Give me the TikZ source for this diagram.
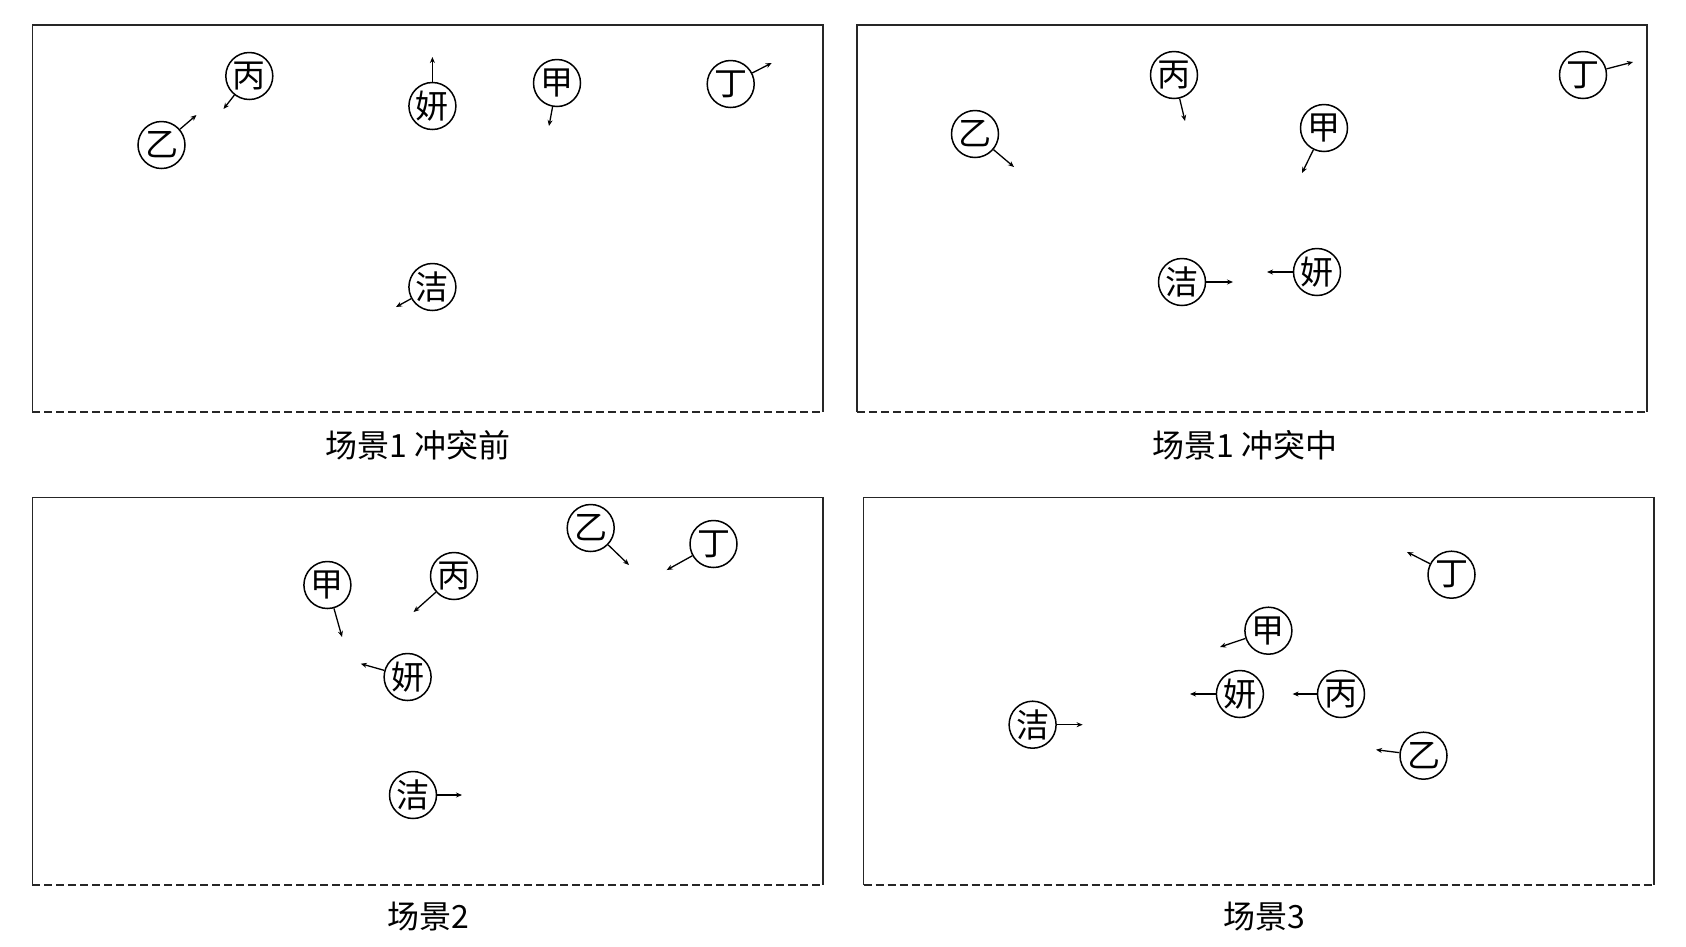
\documentclass[tikz,border=0pt]{standalone}
\usepackage{fontspec}
\setmainfont{Noto Sans CJK SC}
\usetikzlibrary{arrows.meta}
\begin{document}
\begin{tikzpicture}[x=1pt,y=-1pt,
  ch/.style={circle,draw=black,line width=1.5pt,minimum size=47pt,inner sep=0pt,font=\fontsize{33}{33}\selectfont},
  mv/.style={line width=1.3pt,-{Stealth[length=6pt,width=5pt]}},
  frame/.style={line width=1.4pt,draw=black!85},
  base/.style={line width=1.4pt,draw=black!85,dash pattern=on 8pt off 4pt},
  lbl/.style={font=\fontsize{32}{32}\selectfont,inner sep=0pt}
]
\useasboundingbox[fill=white] (0,0) rectangle (1686,946);

% ---------- frames ----------
\draw[frame] (32.3,412) |- (823,25) -- (823,412);
\draw[base]  (32.3,412) -- (823,412);
\draw[frame] (857,412) |- (1647,25) -- (1647,412);
\draw[base]  (857,412) -- (1647,412);
\draw[frame] (32.3,885) |- (823,497.5) -- (823,885);
\draw[base]  (32.3,885) -- (823,885);
\draw[frame] (863.5,885) |- (1654,497.5) -- (1654,885);
\draw[base]  (863.5,885) -- (1654,885);

% ---------- captions ----------
\node[lbl] (c1) at (418,445) {场景1 冲突前};
\node[lbl] (c2) at (1245,445) {场景1 冲突中};
\node[lbl] (c3) at (428,917) {场景2};
\node[lbl] (c4) at (1264,917) {场景3};

% ---------- scene 1 before ----------
\node[ch] (a1) at (161.5,145) {乙};
\node[ch] (a2) at (249.3,76) {丙};
\node[ch] (a3) at (432.4,106) {妍};
\node[ch] (a4) at (557,83) {甲};
\node[ch] (a5) at (730.7,84) {丁};
\node[ch] (a6) at (432.4,287) {洁};
\coordinate (a1t) at (196.5,115);
\coordinate (a2t) at (223.5,109);
\coordinate (a3t) at (432.4,57);
\coordinate (a4t) at (549,126);
\coordinate (a5t) at (771.7,63);
\coordinate (a6t) at (396,307);
\foreach \n in {a1,a2,a3,a4,a5,a6} \draw[mv] (\n) -- (\n t);

% ---------- scene 1 during ----------
\node[ch] (b1) at (975,134) {乙};
\node[ch] (b2) at (1174,75) {丙};
\node[ch] (b3) at (1317,272) {妍};
\node[ch] (b4) at (1324,128) {甲};
\node[ch] (b5) at (1583,75) {丁};
\node[ch] (b6) at (1182,282) {洁};
\coordinate (b1t) at (1014,167);
\coordinate (b2t) at (1185,121);
\coordinate (b3t) at (1267,272);
\coordinate (b4t) at (1302,173);
\coordinate (b5t) at (1633,62);
\coordinate (b6t) at (1233,282);
\foreach \n in {b1,b2,b3,b4,b5,b6} \draw[mv] (\n) -- (\n t);

% ---------- scene 2 ----------
\node[ch] (d1) at (590.7,528) {乙};
\node[ch] (d2) at (454,576) {丙};
\node[ch] (d3) at (407.6,677) {妍};
\node[ch] (d4) at (327.4,585) {甲};
\node[ch] (d5) at (713.5,544) {丁};
\node[ch] (d6) at (413,795) {洁};
\coordinate (d1t) at (629,565);
\coordinate (d2t) at (413.6,612);
\coordinate (d3t) at (360.8,663.7);
\coordinate (d4t) at (342,637);
\coordinate (d5t) at (666.7,570);
\coordinate (d6t) at (462,795);
\foreach \n in {d1,d2,d3,d4,d5,d6} \draw[mv] (\n) -- (\n t);

% ---------- scene 3 ----------
\node[ch] (e1) at (1423.5,755.7) {乙};
\node[ch] (e2) at (1341,694) {丙};
\node[ch] (e3) at (1239.9,694) {妍};
\node[ch] (e4) at (1268.4,630.7) {甲};
\node[ch] (e5) at (1451.5,574.7) {丁};
\node[ch] (e6) at (1032.6,724.7) {洁};
\coordinate (e1t) at (1376,749.7);
\coordinate (e2t) at (1292.6,694);
\coordinate (e3t) at (1190,694);
\coordinate (e4t) at (1220,647);
\coordinate (e5t) at (1407,552);
\coordinate (e6t) at (1082.6,724.7);
\foreach \n in {e1,e2,e3,e4,e5,e6} \draw[mv] (\n) -- (\n t);
\end{tikzpicture}
\end{document}
